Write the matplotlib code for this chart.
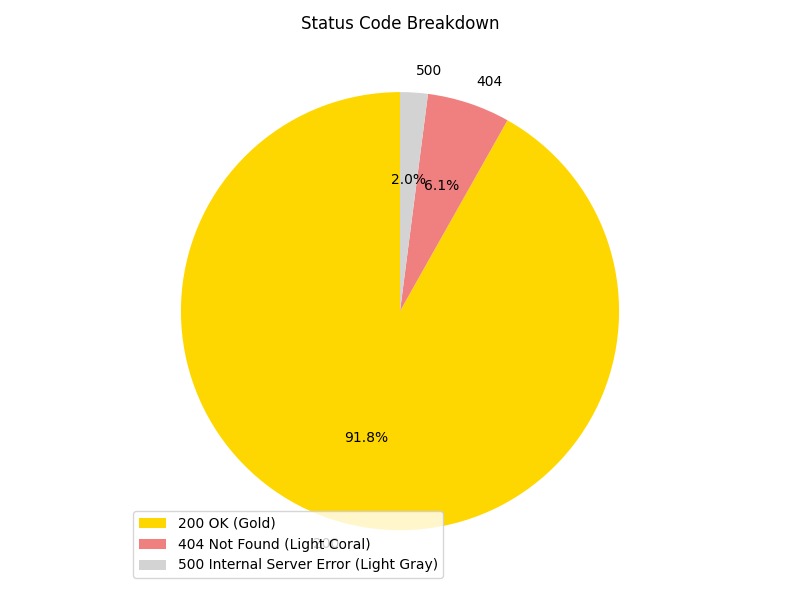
import matplotlib
matplotlib.use("Agg")
import matplotlib.pyplot as plt

labels = ["200", "404", "500"]
counts = [450, 30, 10]
colors = ["gold", "lightcoral", "lightgray"]
legend_labels = ["200 OK (Gold)", "404 Not Found (Light Coral)", "500 Internal Server Error (Light Gray)"]

fig, ax = plt.subplots(figsize=(8, 6), dpi=100)
ax.pie(counts, labels=labels, colors=colors, autopct="%1.1f%%", startangle=90)
ax.set_aspect("equal")
ax.set_title("Status Code Breakdown")
ax.legend(legend_labels, loc="lower left")
fig.tight_layout()
fig.savefig("out.png")
